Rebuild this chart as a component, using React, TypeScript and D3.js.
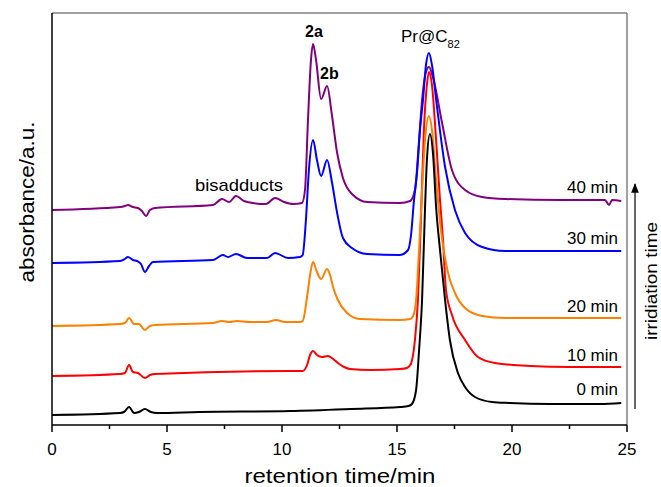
import React from "react";
import * as d3 from "d3";

// retention time (min) / absorbance (a.u.) pairs
const trace0: [number, number][] = [
  [0, 0.10], [2.96, 0.12], [3.13, 0.13], [3.35, 0.18], [3.57, 0.12], [3.78, 0.13], [4.04, 0.16],
  [4.3, 0.13], [4.57, 0.12], [6.4, 0.13], [10.35, 0.14], [13.0, 0.16], [15.13, 0.18], [15.5, 0.19],
  [15.65, 0.21], [15.83, 0.35], [15.96, 0.75], [16.09, 1.25], [16.22, 2.18], [16.3, 2.65],
  [16.43, 2.91], [16.57, 2.70], [16.7, 2.18], [16.87, 1.75], [17.09, 1.25], [17.3, 0.85],
  [17.65, 0.52], [17.96, 0.38], [18.39, 0.28], [19.13, 0.23], [19.9, 0.22], [21.65, 0.21],
  [23.83, 0.21], [24.75, 0.22],
];
const trace10: [number, number][] = [
  [0, 0.49], [2.96, 0.51], [3.17, 0.52], [3.35, 0.60], [3.52, 0.53], [3.74, 0.52], [4.04, 0.47],
  [4.26, 0.50], [4.48, 0.51], [10.35, 0.54], [10.9, 0.54], [11.09, 0.60], [11.22, 0.70],
  [11.35, 0.74], [11.52, 0.70], [11.74, 0.68], [12.0, 0.69], [12.22, 0.66], [12.43, 0.62],
  [12.7, 0.58], [12.96, 0.56], [13.83, 0.55], [15.13, 0.56], [15.43, 0.57], [15.6, 0.61],
  [15.78, 0.85], [15.91, 1.25], [16.04, 2.05], [16.17, 2.95], [16.3, 3.40], [16.39, 3.53],
  [16.52, 3.40], [16.7, 2.85], [16.87, 2.25], [17.0, 1.85], [17.13, 1.35], [17.39, 1.10],
  [17.96, 0.85], [18.52, 0.68], [19.26, 0.62], [20.78, 0.59], [22.52, 0.58], [24.75, 0.58],
];
const trace20: [number, number][] = [
  [0, 0.99], [2.96, 1.01], [3.17, 1.02], [3.35, 1.07], [3.57, 1.01], [3.78, 1.01], [4.04, 0.95],
  [4.26, 0.99], [4.48, 1.00], [7.0, 1.02], [7.39, 1.04], [7.7, 1.03], [8.04, 1.04], [8.6, 1.03],
  [9.35, 1.03], [9.74, 1.05], [10.13, 1.03], [10.78, 1.03], [10.9, 1.04], [11.09, 1.28],
  [11.22, 1.50], [11.35, 1.63], [11.52, 1.53], [11.7, 1.46], [11.96, 1.56], [12.09, 1.50],
  [12.22, 1.38], [12.43, 1.25], [12.83, 1.12], [13.39, 1.06], [15.13, 1.05], [15.57, 1.06],
  [15.7, 1.09], [15.83, 1.25], [15.96, 1.75], [16.09, 2.35], [16.22, 2.85], [16.39, 3.09],
  [16.52, 2.95], [16.7, 2.45], [16.91, 1.95], [17.22, 1.52], [17.52, 1.32], [17.96, 1.17],
  [18.7, 1.09], [19.7, 1.07], [24.75, 1.07],
];
const trace30: [number, number][] = [
  [0, 1.62], [2.96, 1.64], [3.17, 1.66], [3.3, 1.68], [3.52, 1.65], [3.7, 1.64], [3.87, 1.61],
  [4.04, 1.53], [4.22, 1.59], [4.39, 1.63], [7.0, 1.65], [7.43, 1.70], [7.65, 1.68], [8.0, 1.71],
  [8.48, 1.67], [9.35, 1.67], [9.7, 1.72], [10.26, 1.67], [10.78, 1.68], [10.9, 1.70],
  [11.04, 2.05], [11.17, 2.55], [11.35, 2.85], [11.52, 2.65], [11.7, 2.49], [11.96, 2.65],
  [12.17, 2.43], [12.39, 2.13], [12.65, 1.87], [13.04, 1.77], [13.7, 1.71], [15.13, 1.70],
  [15.48, 1.75], [15.61, 1.90], [15.74, 2.25], [15.87, 2.52], [16.0, 2.95], [16.13, 3.25],
  [16.26, 3.60], [16.39, 3.72], [16.52, 3.60], [16.74, 3.18], [17.09, 2.58], [17.52, 2.15],
  [17.96, 1.92], [18.7, 1.78], [19.7, 1.74], [24.75, 1.74],
];
const trace40: [number, number][] = [
  [0, 2.15], [2.96, 2.18], [3.17, 2.19], [3.3, 2.20], [3.52, 2.18], [3.74, 2.17], [3.91, 2.14],
  [4.09, 2.09], [4.26, 2.15], [4.48, 2.17], [7.0, 2.20], [7.39, 2.26], [7.7, 2.23], [8.0, 2.29],
  [8.35, 2.24], [8.74, 2.22], [9.3, 2.21], [9.7, 2.27], [10.09, 2.23], [10.48, 2.21],
  [10.87, 2.22], [11.0, 2.35], [11.13, 3.05], [11.26, 3.65], [11.35, 3.81], [11.48, 3.65],
  [11.7, 3.26], [11.96, 3.39], [12.17, 3.10], [12.39, 2.73], [12.65, 2.47], [13.09, 2.30],
  [13.7, 2.23], [15.13, 2.22], [15.57, 2.24], [15.78, 2.35], [15.96, 2.85], [16.09, 3.25],
  [16.26, 3.53], [16.39, 3.58], [16.57, 3.47], [16.96, 3.02], [17.39, 2.55], [17.96, 2.35],
  [18.7, 2.28], [19.7, 2.26], [22.09, 2.25], [24.04, 2.25], [24.22, 2.20], [24.35, 2.25],
  [24.75, 2.24],
];

const seriesNames = ["40 min", "30 min", "20 min", "10 min", "0 min"];
const seriesColors = ["#800080", "#0000ff", "#ff8000", "#ff0000", "#000000"];
const seriesData = [trace40, trace30, trace20, trace10, trace0];
const labelBaselines = [2.3, 1.79, 1.11, 0.62, 0.28];
const xTicks = [0, 5, 10, 15, 20, 25];
const xMinorTicks = [2.5, 7.5, 12.5, 17.5, 22.5];

const W = 661;
const H = 487;
const left = 52;
const right = 627;
const top = 13;
const bottom = 425;

export default function App() {
  const x = d3.scaleLinear().domain([0, 25]).range([left, right]);
  const y = d3.scaleLinear().domain([0, 4.12]).range([bottom, top]);
  const line = d3
    .line<[number, number]>()
    .x((d) => x(d[0]))
    .y((d) => y(d[1]))
    .curve(d3.curveMonotoneX);
  const font = "'Liberation Sans', Arial, Helvetica, sans-serif";
  const drawOrder = [0, 1, 3, 2, 4];

  return (
    <svg
      width={W}
      height={H}
      style={{ position: "absolute", left: 0, top: 0, background: "#fff" }}
      fontFamily={font}
    >
      <rect x={0} y={0} width={W} height={H} fill="#fff" />
      {/* frame */}
      <line x1={left} x2={right} y1={top} y2={top} stroke="#808080" strokeWidth={1.5} />
      <line x1={right} x2={right} y1={top} y2={bottom} stroke="#808080" strokeWidth={1.5} />
      {/* traces */}
      {drawOrder.map((i) => (
        <path
          key={seriesNames[i]}
          d={line(seriesData[i]) || ""}
          fill="none"
          stroke={seriesColors[i]}
          strokeWidth={2}
          strokeLinejoin="round"
        />
      ))}
      <line x1={left} x2={left} y1={top} y2={bottom} stroke="#000" strokeWidth={1.5} />
      <line x1={left} x2={right} y1={bottom} y2={bottom} stroke="#000" strokeWidth={1.5} />
      {xTicks.map((t) => (
        <g key={"t" + t}>
          <line x1={x(t)} x2={x(t)} y1={bottom} y2={bottom + 7} stroke="#000" strokeWidth={1.5} />
          <text x={x(t)} y={455} textAnchor="middle" fontSize={17}>
            {t}
          </text>
        </g>
      ))}
      {xMinorTicks.map((t) => (
        <line key={"m" + t} x1={x(t)} x2={x(t)} y1={bottom} y2={bottom + 4} stroke="#000" strokeWidth={1.5} />
      ))}
      <text x={340} y={483} textAnchor="middle" fontSize={20} textLength={191} lengthAdjust="spacingAndGlyphs">
        retention time/min
      </text>
      <text
        transform="translate(34,202) rotate(-90)"
        textAnchor="middle"
        fontSize={20}
        textLength={161}
        lengthAdjust="spacingAndGlyphs"
      >
        absorbance/a.u.
      </text>
      {/* series labels */}
      {seriesNames.map((n, i) => (
        <text key={n} x={618} y={y(labelBaselines[i]) - 2} textAnchor="end" fontSize={17}>
          {n}
        </text>
      ))}
      {/* annotations */}
      <text x={305} y={37} fontSize={16} fontWeight="bold">2a</text>
      <text x={320} y={79} fontSize={16} fontWeight="bold">2b</text>
      <text x={401} y={42} fontSize={17}>
        Pr@C
        <tspan fontSize={11} dy={6}>82</tspan>
      </text>
      <text x={195} y={191} fontSize={17} textLength={88} lengthAdjust="spacingAndGlyphs">
        bisadducts
      </text>
      {/* irradiation arrow */}
      <defs>
        <marker id="ah" viewBox="0 0 10 10" refX={9} refY={5} markerWidth={8} markerHeight={8} orient="auto">
          <path d="M0,1 L10,5 L0,9 Z" fill="#000" />
        </marker>
      </defs>
      <line x1={635} x2={635} y1={409} y2={184} stroke="#000" strokeWidth={1.2} markerEnd="url(#ah)" />
      <text
        transform="translate(657,281) rotate(-90)"
        textAnchor="middle"
        fontSize={17}
        textLength={118}
        lengthAdjust="spacingAndGlyphs"
      >
        irridiation time
      </text>
    </svg>
  );
}
